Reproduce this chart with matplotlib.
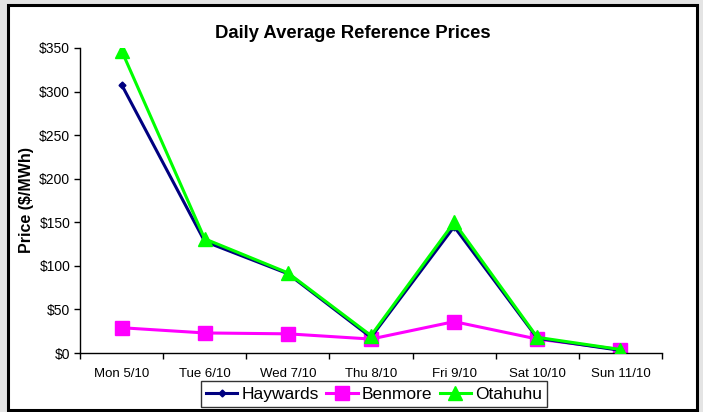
import matplotlib
matplotlib.use("Agg")
import matplotlib.pyplot as plt
from matplotlib.patches import Rectangle
from matplotlib.ticker import MultipleLocator, FuncFormatter

plt.rcParams['font.family'] = ['Liberation Sans', 'DejaVu Sans']

days = ["Mon 5/10", "Tue 6/10", "Wed 7/10", "Thu 8/10", "Fri 9/10", "Sat 10/10", "Sun 11/10"]
haywards = [308, 128, 91, 18, 145, 17, 3]
benmore = [29, 23, 22, 16, 36, 16, 4]
otahuhu = [347, 131, 92, 20, 150, 18, 4]

W, H = 703, 412
fig = plt.figure(figsize=(W / 100, H / 100), dpi=100)
fig.patch.set_facecolor('#e4e4e4')
# white panel with black border
fig.patches.append(Rectangle((8 / W, 1 - 410 / H), (697 - 8) / W, (410 - 5) / H,
                             transform=fig.transFigure, facecolor='white',
                             edgecolor='black', linewidth=2.2, zorder=-10))

ax = fig.add_axes([80 / W, 1 - 353 / H, (662 - 80) / W, (353 - 48) / H])
ax.set_facecolor('none')
x = list(range(len(days)))
ax.plot(x, haywards, color='#000080', lw=2.2, marker='D', ms=3.5, label='Haywards', zorder=3)
ax.plot(x, benmore, color='#ff00ff', lw=2.2, marker='s', ms=9.5, label='Benmore', zorder=2)
ax.plot(x, otahuhu, color='#00ff00', lw=2.2, marker='^', ms=9.5, label='Otahuhu', zorder=4)

ax.set_xlim(-0.5, len(days) - 0.5)
ax.set_ylim(0, 350)
ax.yaxis.set_major_locator(MultipleLocator(50))
ax.yaxis.set_major_formatter(FuncFormatter(lambda v, p: f"${int(v)}"))
ax.set_xticks(x)
ax.set_xticklabels(days)
ax.set_xticks([i - 0.5 for i in range(len(days) + 1)], minor=True)
ax.tick_params(axis='x', which='major', length=0, labelsize=9.5, pad=11)
ax.tick_params(axis='x', which='minor', length=4, direction='out', width=1)
ax.tick_params(axis='y', length=4, direction='out', labelsize=10, width=1, pad=3)
for s in ['top', 'right']:
    ax.spines[s].set_visible(False)
for s in ['left', 'bottom']:
    ax.spines[s].set_linewidth(1)
ax.set_ylabel('Price ($/MWh)', fontsize=11.5, fontweight='bold', labelpad=4)

fig.text(353 / W, 1 - 33 / H, 'Daily Average Reference Prices', ha='center', va='center',
         fontsize=13.3, fontweight='bold')

leg = fig.legend(loc='center', bbox_to_anchor=(374 / W, 1 - 394 / H), ncol=3,
                 frameon=True, fancybox=False, fontsize=12.5, handlelength=1.8,
                 handletextpad=0.22, columnspacing=0.45, borderpad=0.3,
                 borderaxespad=0)
leg.get_frame().set_edgecolor('black')
leg.get_frame().set_linewidth(1)

fig.savefig('out.png', dpi=100, facecolor=fig.get_facecolor())
